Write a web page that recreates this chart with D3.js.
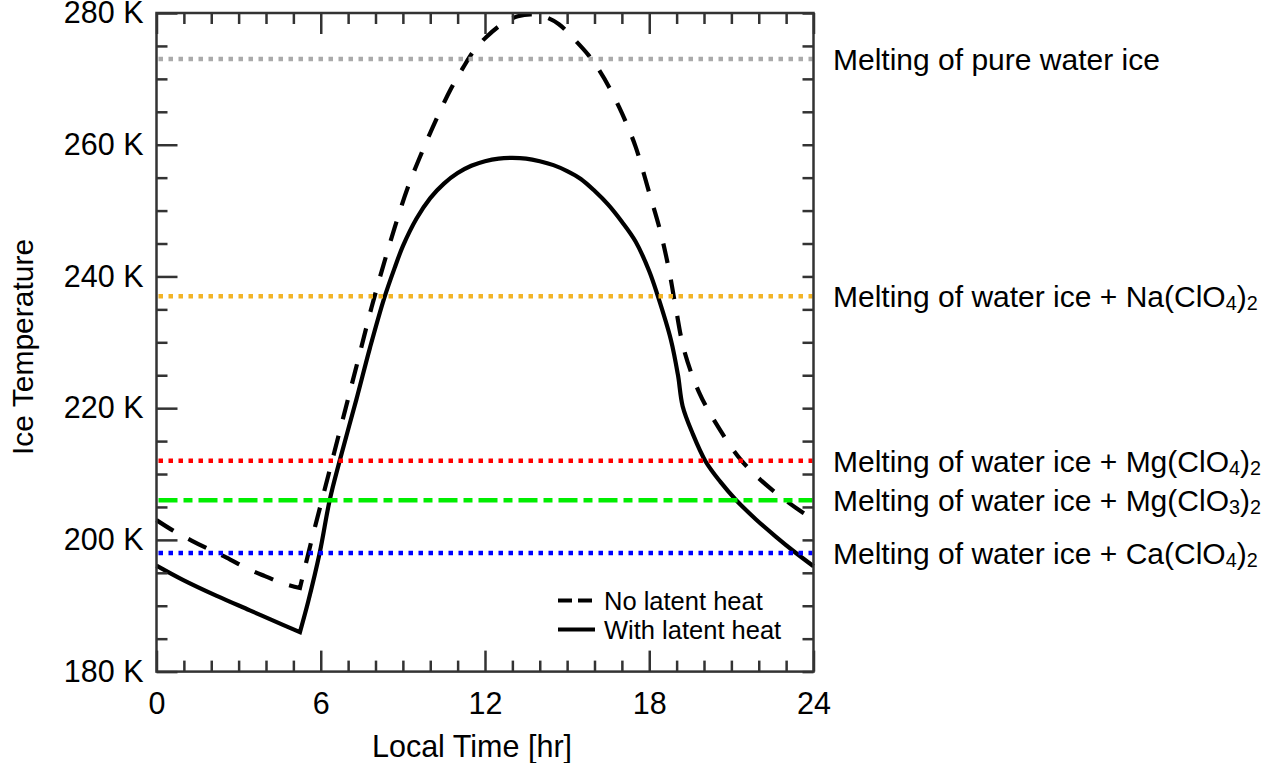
<!DOCTYPE html>
<html><head><meta charset="utf-8">
<script src="https://cdn.jsdelivr.net/npm/d3@7"></script>
<style>
body{margin:0;background:#fff}
svg{display:block}
text{font-family:"Liberation Sans",Arial,Helvetica,sans-serif;fill:#000}
</style>
</head><body>
<svg id="chart" width="1279" height="763"></svg>
<script>
// ---- data ----
// No latent heat (dashed), split at the night-time minimum
const timeNoLatentNight = [0, 0.61, 1.28, 1.95, 2.56, 3.29, 3.96, 4.62, 5.24];
const tempNoLatentNight = [203.0, 201.4, 199.9, 198.5, 197.3, 195.7, 194.5, 193.4, 192.7];
const timeNoLatentDay = [5.24, 5.67, 6.29, 6.91, 7.4, 7.85, 8.24, 8.7, 9.18, 9.73, 10.28, 10.77, 11.2, 11.6, 12.06, 12.65, 13.2, 13.7, 14.2, 14.7, 15.26, 15.78, 16.11, 16.54, 16.9, 17.2, 17.51, 18.0, 18.42, 18.73, 18.97, 19.28, 19.82, 20.45, 21.34, 22.37, 23.59, 24];
const tempNoLatentDay = [192.7, 200.0, 210.0, 220.0, 227.9, 235.2, 241.0, 247.4, 253.5, 259.2, 264.4, 268.6, 271.7, 274.3, 276.4, 278.4, 279.5, 279.8, 279.4, 278.3, 276.0, 273.6, 271.7, 268.7, 265.7, 262.9, 259.6, 252.7, 246.6, 240.8, 235.2, 228.7, 222.4, 217.6, 212.2, 208.0, 204.2, 203.2];

// With latent heat (solid)
const timeLatentNight = [0, 0.98, 2.2, 3.41, 4.62, 5.24];
const tempLatentNight = [196.1, 193.9, 191.5, 189.3, 187.1, 186.0];
const timeLatentDay = [5.24, 5.54, 5.96, 6.33, 6.69, 7.3, 7.8, 8.31, 8.7, 9.0, 9.5, 10.0, 10.5, 11.0, 11.5, 12.0, 12.5, 13.0, 13.5, 14.0, 14.5, 15.0, 15.5, 16.0, 16.5, 17.0, 17.5, 18.0, 18.3, 18.79, 19.05, 19.22, 19.58, 20.06, 20.6, 21.16, 21.9, 22.62, 23.3, 24];
const tempLatentDay = [186.0, 190.6, 198.0, 206.1, 212.0, 221.3, 229.2, 236.6, 241.3, 244.6, 248.8, 251.9, 254.1, 255.7, 256.8, 257.5, 257.9, 258.0, 257.9, 257.5, 256.9, 256.0, 254.8, 253.0, 250.9, 248.3, 245.3, 240.8, 237.2, 230.4, 225.0, 220.3, 216.2, 211.9, 208.8, 206.1, 203.1, 200.5, 198.2, 196.0];

// Melting points
const meltTemps = [273, 237, 212, 206, 198];
const meltColors = ["#aaaaaa", "#f2b427", "#ff0000", "#00ee00", "#0000ff"];
const meltDash = ["4.5,5.5", "4.5,5.5", "4.5,5.5", "19,6,9,6", "4.5,5.5"];
const meltLabels = [
  [["Melting of pure water ice", false]],
  [["Melting of water ice + Na(ClO", false], ["4", true], [")", false], ["2", true]],
  [["Melting of water ice + Mg(ClO", false], ["4", true], [")", false], ["2", true]],
  [["Melting of water ice + Mg(ClO", false], ["3", true], [")", false], ["2", true]],
  [["Melting of water ice + Ca(ClO", false], ["4", true], [")", false], ["2", true]]
];

const xMajorTicks = [0, 6, 12, 18, 24];
const xMinorTicks = d3.range(0, 25, 1).filter(d => d % 6 !== 0);
const yMajorTicks = [180, 200, 220, 240, 260, 280];
const yMinorTicks = d3.range(180, 281, 5).filter(d => d % 20 !== 0);
const legendLabels = ["No latent heat", "With latent heat"];

// ---- layout ----
const svg = d3.select("#chart");
const L = 156.5, R = 813.5, T = 13, B = 671.6;
const x = d3.scaleLinear().domain([0, 24]).range([L, R]);
const y = d3.scaleLinear().domain([180, 280]).range([B, T]);
const axisColor = "#333";

const line = d3.line().x(d => x(d[0])).y(d => y(d[1])).curve(d3.curveCatmullRom.alpha(0.5));
function joinPath(segs) {
  return segs.map((s, i) => {
    const d = line(d3.zip(s[0], s[1]));
    return i === 0 ? d : d.replace(/^M/, "L");
  }).join("");
}

// curves
svg.append("path")
  .attr("d", joinPath([[timeNoLatentNight, tempNoLatentNight], [timeNoLatentDay, tempNoLatentDay]]))
  .attr("fill", "none").attr("stroke", "#000").attr("stroke-width", 4.2)
  .attr("stroke-dasharray", "20,17");
svg.append("path")
  .attr("d", joinPath([[timeLatentNight, tempLatentNight], [timeLatentDay, tempLatentDay]]))
  .attr("fill", "none").attr("stroke", "#000").attr("stroke-width", 4.2)
  .attr("stroke-linejoin", "miter");

// melting lines
svg.selectAll("line.melt").data(meltTemps).join("line")
  .attr("class", "melt")
  .attr("x1", x(0) + 2).attr("x2", x(24) - 1)
  .attr("y1", d => y(d)).attr("y2", d => y(d))
  .attr("stroke", (d, i) => meltColors[i])
  .attr("stroke-width", 4.5)
  .attr("stroke-dasharray", (d, i) => meltDash[i]);

// melting labels
const fsLab = 30;
meltTemps.forEach((t, i) => {
  const txt = svg.append("text")
    .attr("x", 833).attr("y", y(t) + fsLab * 0.36)
    .attr("font-size", fsLab);
  meltLabels[i].forEach(([s, sub]) => {
    const ts = txt.append("tspan").text(s);
    if (sub) ts.attr("font-size", fsLab * 0.66).attr("dy", 3);
    else ts.attr("dy", txt.selectAll("tspan").size() > 1 ? -3 : 0);
  });
});

// axes
function styleAxis(g) {
  g.select(".domain").remove();
  g.selectAll(".tick line").attr("stroke", axisColor).attr("stroke-width", 2.5);
  g.selectAll("text").attr("font-size", 30.5).attr("fill", "#000")
    .style("font-family", '"Liberation Sans",Arial,sans-serif');
}
svg.append("g").attr("transform", `translate(0,${B})`)
  .call(d3.axisBottom(x).tickValues(xMajorTicks).tickSize(-21).tickPadding(21).tickFormat(d => d))
  .call(styleAxis);
svg.append("g").attr("transform", `translate(0,${B})`)
  .call(d3.axisBottom(x).tickValues(xMinorTicks).tickSize(-11).tickFormat(""))
  .call(styleAxis);
svg.append("g").attr("transform", `translate(0,${T})`)
  .call(d3.axisTop(x).tickValues(xMajorTicks).tickSize(-21).tickFormat(""))
  .call(styleAxis);
svg.append("g").attr("transform", `translate(0,${T})`)
  .call(d3.axisTop(x).tickValues(xMinorTicks).tickSize(-11).tickFormat(""))
  .call(styleAxis);
svg.append("g").attr("transform", `translate(${L},0)`)
  .call(d3.axisLeft(y).tickValues(yMajorTicks).tickSize(-21).tickPadding(13).tickFormat(d => d + " K"))
  .call(styleAxis);
svg.append("g").attr("transform", `translate(${L},0)`)
  .call(d3.axisLeft(y).tickValues(yMinorTicks).tickSize(-11).tickFormat(""))
  .call(styleAxis);
svg.append("g").attr("transform", `translate(${R},0)`)
  .call(d3.axisRight(y).tickValues(yMajorTicks.concat(yMinorTicks)).tickSize(-11).tickFormat(""))
  .call(styleAxis);

// frame
svg.append("rect").attr("x", L).attr("y", T).attr("width", R - L).attr("height", B - T)
  .attr("fill", "none").attr("stroke", axisColor).attr("stroke-width", 2.5);

// axis titles
svg.append("text").attr("x", 472).attr("y", 757)
  .attr("text-anchor", "middle").attr("font-size", 30.5).text("Local Time [hr]");
svg.append("text").attr("transform", `translate(33,347) rotate(-90)`)
  .attr("text-anchor", "middle").attr("font-size", 30).text("Ice Temperature");

// legend
const legY = [600.5, 629.5];
legY.forEach((ly, i) => {
  svg.append("line").attr("x1", 558).attr("x2", 595).attr("y1", ly).attr("y2", ly)
    .attr("stroke", "#000").attr("stroke-width", 4.2)
    .attr("stroke-dasharray", i === 0 ? "14,6" : null);
  svg.append("text").attr("x", 604).attr("y", ly + 9)
    .attr("font-size", 25.5).text(legendLabels[i]);
});
</script>
</body></html>
